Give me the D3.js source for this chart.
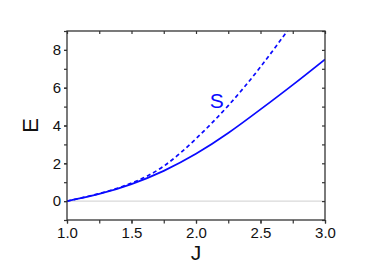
<!DOCTYPE html>
<html>
<head>
<meta charset="utf-8">
<script src="https://cdn.jsdelivr.net/npm/d3@7"></script>
<style>
  body { margin: 0; background: #fff; }
  svg { display: block; font-family: "Liberation Sans", Arial, sans-serif; }
</style>
</head>
<body>
<svg id="chart"></svg>
<script>
// values
const jValues = [1.0, 1.25, 1.5, 1.75, 2.0, 2.25, 2.5, 2.75, 3.0];
const solidE = [0, 0.38, 0.9, 1.6, 2.5, 3.6, 4.85, 6.15, 7.5];
const dashJ = [1.0, 1.25, 1.5, 1.75, 2.0, 2.25, 2.5, 2.75];
const dashE = [0, 0.4, 0.95, 1.85, 3.3, 5.05, 7.1, 9.4];
const xTicks = [1.0, 1.5, 2.0, 2.5, 3.0];
const yTicks = [0, 2, 4, 6, 8];

const W = 378, H = 265;
const margin = { top: 31, right: 53, bottom: 45, left: 67 };
const width = W - margin.left - margin.right;
const height = H - margin.top - margin.bottom;

const svg = d3.select('#chart')
    .attr('width', W)
    .attr('height', H);

const g = svg.append('g')
    .attr('transform', `translate(${margin.left},${margin.top})`);

const x = d3.scaleLinear().domain([1, 3]).range([0, width]);
const y = d3.scaleLinear().domain([-1, 9]).range([height, 0]);

g.append('clipPath').attr('id', 'clip')
    .append('rect').attr('width', width).attr('height', height);

// zero line
g.append('line')
    .attr('x1', 0).attr('x2', width)
    .attr('y1', y(0)).attr('y2', y(0))
    .attr('stroke', '#cfcfcf')
    .attr('stroke-width', 1);

const line = d3.line()
    .x(d => x(d[0]))
    .y(d => y(d[1]))
    .curve(d3.curveNatural);

g.append('path')
    .datum(jValues.map((j, i) => [j, solidE[i]]))
    .attr('d', line)
    .attr('fill', 'none')
    .attr('stroke', '#0a0aff')
    .attr('stroke-width', 1.7)
    .attr('clip-path', 'url(#clip)');

g.append('path')
    .datum(dashJ.map((j, i) => [j, dashE[i]]))
    .attr('d', line)
    .attr('fill', 'none')
    .attr('stroke', '#0a0aff')
    .attr('stroke-width', 1.7)
    .attr('stroke-dasharray', '4,3')
    .attr('clip-path', 'url(#clip)');

// axes
const axisColor = '#333';
const minorX = d3.range(1, 3.001, 0.25);
const minorY = d3.range(-1, 9.001, 1);

const bottomAxis = g.append('g')
    .attr('transform', `translate(0,${height})`)
    .call(d3.axisBottom(x).tickValues(minorX).tickSize(3.5).tickFormat(''));
bottomAxis.append('g')
    .call(d3.axisBottom(x).tickValues(xTicks).tickSize(3.5).tickPadding(4).tickFormat(d3.format('.1f')));

g.append('g')
    .call(d3.axisBottom(x).tickValues(minorX).tickSize(3).tickFormat(''));

const leftAxis = g.append('g')
    .call(d3.axisLeft(y).tickValues(minorY).tickSize(3).tickFormat(''));
leftAxis.append('g')
    .call(d3.axisLeft(y).tickValues(yTicks).tickSize(3).tickPadding(3).tickFormat(d3.format('d')));

g.append('g')
    .attr('transform', `translate(${width},0)`)
    .call(d3.axisLeft(y).tickValues(minorY).tickSize(3).tickFormat(''));

g.selectAll('.domain').remove();
g.selectAll('.tick line').attr('stroke', axisColor).attr('stroke-width', 1.2);
g.selectAll('.tick text')
    .attr('fill', '#111')
    .style('font-size', '15px')
    .style('font-family', '"Liberation Sans", Arial, sans-serif');

g.append('rect')
    .attr('width', width).attr('height', height)
    .attr('fill', 'none')
    .attr('stroke', axisColor)
    .attr('stroke-width', 1.3);

// labels
g.append('text')
    .attr('x', x(2.16))
    .attr('y', y(4.93))
    .attr('text-anchor', 'middle')
    .attr('fill', '#0a0aff')
    .style('font-size', '21px')
    .text('S');

svg.append('text')
    .attr('x', margin.left + width / 2)
    .attr('y', 260)
    .attr('text-anchor', 'middle')
    .attr('fill', '#111')
    .style('font-size', '21px')
    .text('J');

svg.append('text')
    .attr('transform', `translate(38,${margin.top + y(4)}) rotate(-90)`)
    .attr('text-anchor', 'middle')
    .attr('fill', '#111')
    .style('font-size', '22px')
    .text('E');
</script>
</body>
</html>
